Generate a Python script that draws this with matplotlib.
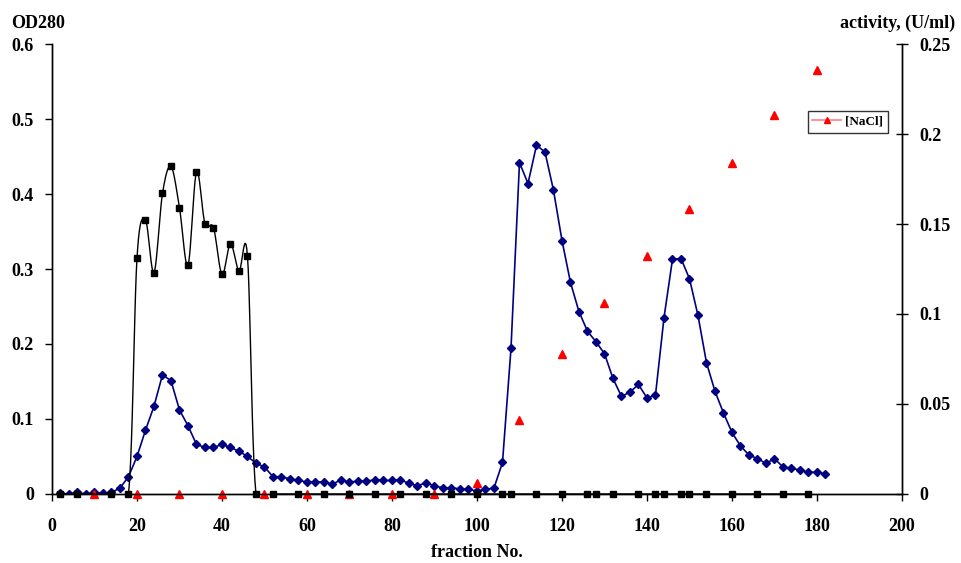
import numpy as np
import matplotlib
matplotlib.use("Agg")
import matplotlib.pyplot as plt
from matplotlib.lines import Line2D

plt.rcParams["font.family"] = ["Liberation Serif", "DejaVu Serif"]
plt.rcParams["font.weight"] = "bold"

# OD280 (left axis), every second fraction
od_fraction = [2, 4, 6, 8, 10, 12, 14, 16, 18, 20, 22, 24, 26, 28, 30, 32, 34, 36, 38, 40,
               42, 44, 46, 48, 50, 52, 54, 56, 58, 60, 62, 64, 66, 68, 70, 72, 74, 76, 78, 80,
               82, 84, 86, 88, 90, 92, 94, 96, 98, 100, 102, 104, 106, 108, 110, 112, 114, 116,
               118, 120, 122, 124, 126, 128, 130, 132, 134, 136, 138, 140, 142, 144, 146, 148,
               150, 152, 154, 156, 158, 160, 162, 164, 166, 168, 170, 172, 174, 176, 178, 180, 182]
od280 = [0.001, 0.000, 0.002, 0.000, 0.002, 0.001, 0.002, 0.008, 0.023, 0.050, 0.085, 0.117,
         0.159, 0.151, 0.112, 0.091, 0.066, 0.062, 0.062, 0.066, 0.062, 0.057, 0.050, 0.041,
         0.036, 0.023, 0.023, 0.020, 0.018, 0.016, 0.016, 0.016, 0.013, 0.019, 0.016, 0.017,
         0.017, 0.019, 0.018, 0.018, 0.019, 0.014, 0.011, 0.015, 0.011, 0.008, 0.008, 0.007,
         0.006, 0.004, 0.006, 0.008, 0.042, 0.194, 0.442, 0.414, 0.465, 0.456, 0.405, 0.338,
         0.282, 0.243, 0.217, 0.203, 0.187, 0.154, 0.130, 0.136, 0.146, 0.128, 0.132, 0.235,
         0.313, 0.314, 0.287, 0.238, 0.175, 0.137, 0.108, 0.082, 0.064, 0.052, 0.047, 0.041,
         0.047, 0.036, 0.034, 0.032, 0.029, 0.029, 0.027]

# activity (right axis)
act_fraction = [2, 6, 14, 18, 20, 22, 24, 26, 28, 30, 32, 34, 36, 38, 40, 42, 44, 46, 48, 52,
                58, 64, 70, 76, 82, 88, 94, 100, 106, 108, 114, 120, 126, 128, 132, 138, 142,
                144, 148, 150, 154, 160, 166, 172, 178]
activity = [0, 0, 0, 0, 0.131, 0.152, 0.123, 0.167, 0.182, 0.159, 0.127, 0.179, 0.150, 0.148,
            0.122, 0.139, 0.124, 0.132, 0, 0, 0, 0, 0, 0, 0, 0, 0, 0, 0, 0, 0, 0, 0, 0, 0, 0,
            0, 0, 0, 0, 0, 0, 0, 0, 0]

# NaCl gradient
nacl_fraction = [10, 20, 30, 40, 50, 60, 70, 80, 90, 100, 110, 120, 130, 140, 150, 160, 170, 180]
nacl = [0, 0, 0, 0, 0, 0, 0, 0, 0, 0.015, 0.099, 0.187, 0.254, 0.318, 0.380, 0.442, 0.505, 0.565]


def smooth(x, y, n=12):
    # catmull-rom curve, like the "smoothed line" option of spreadsheets
    x = np.asarray(x, float)
    y = np.asarray(y, float)
    px = np.concatenate([[x[0]], x, [x[-1]]])
    py = np.concatenate([[y[0]], y, [y[-1]]])
    t = np.linspace(0, 1, n)[:, None]
    xs, ys = [], []
    for i in range(1, len(px) - 2):
        for p, out in ((px, xs), (py, ys)):
            p0, p1, p2, p3 = p[i - 1], p[i], p[i + 1], p[i + 2]
            seg = 0.5 * (2 * p1 + (-p0 + p2) * t + (2 * p0 - 5 * p1 + 4 * p2 - p3) * t ** 2
                         + (-p0 + 3 * p1 - 3 * p2 + p3) * t ** 3)
            out.append(seg.ravel())
    return np.concatenate(xs), np.concatenate(ys)


fig = plt.figure(figsize=(9.61, 5.63), dpi=100)
ax = fig.add_axes([0.0541, 0.1226, 0.8845, 0.7992])
ax2 = ax.twinx()

ax.plot(od_fraction, od280, color="#000080", lw=1.2, marker="D", ms=4, zorder=3)
ax.plot(nacl_fraction, nacl, ls="none", marker="^", color="#ff0000", ms=5.5,
        clip_on=False, zorder=5)

sx, sy = smooth(act_fraction, activity)
ax2.plot(sx, sy, color="black", lw=1.0)
ax2.plot(act_fraction, activity, ls="none", marker="s", color="black", ms=4.5, clip_on=False)

ax.set_xlim(0, 200)
ax.set_ylim(0, 0.6)
ax2.set_ylim(0, 0.25)
ax.set_xticks(range(0, 201, 20))
ax.set_yticks([0, 0.1, 0.2, 0.3, 0.4, 0.5, 0.6])
ax.set_yticklabels(["0", "0.1", "0.2", "0.3", "0.4", "0.5", "0.6"])
ax2.set_yticks([0, 0.05, 0.1, 0.15, 0.2, 0.25])
ax2.set_yticklabels(["0", "0.05", "0.1", "0.15", "0.2", "0.25"])

for a in (ax, ax2):
    a.spines["top"].set_visible(False)
    for s in a.spines.values():
        s.set_linewidth(1.0)
ax.tick_params(axis="both", labelsize=13, direction="out", length=5, width=1)
ax.tick_params(axis="y", pad=8)
ax.tick_params(axis="x", pad=12)
ax2.tick_params(axis="y", labelsize=13, direction="inout", length=9, width=1, pad=8)

fig.text(0.012, 0.958, "OD280", fontsize=13, fontweight="bold", ha="left", va="center")
fig.text(0.994, 0.958, "activity, (U/ml)", fontsize=13, fontweight="bold",
         ha="right", va="center")
fig.text(0.496, 0.018, "fraction No.", fontsize=13, fontweight="bold", ha="center",
         va="center")

handle = Line2D([], [], color="#ff8080", lw=1.2, marker="^", markerfacecolor="#ff0000",
                markeredgecolor="#ff0000", ms=5)
leg = ax.legend([handle], ["[NaCl]"], loc="upper left", bbox_to_anchor=(0.889, 0.851),
                fontsize=9.5, frameon=True, fancybox=False, borderpad=0.35, handlelength=2.2,
                handletextpad=0.3, borderaxespad=0)
leg.get_frame().set_edgecolor("black")
leg.get_frame().set_linewidth(1.0)

fig.savefig("out.png", dpi=100)
